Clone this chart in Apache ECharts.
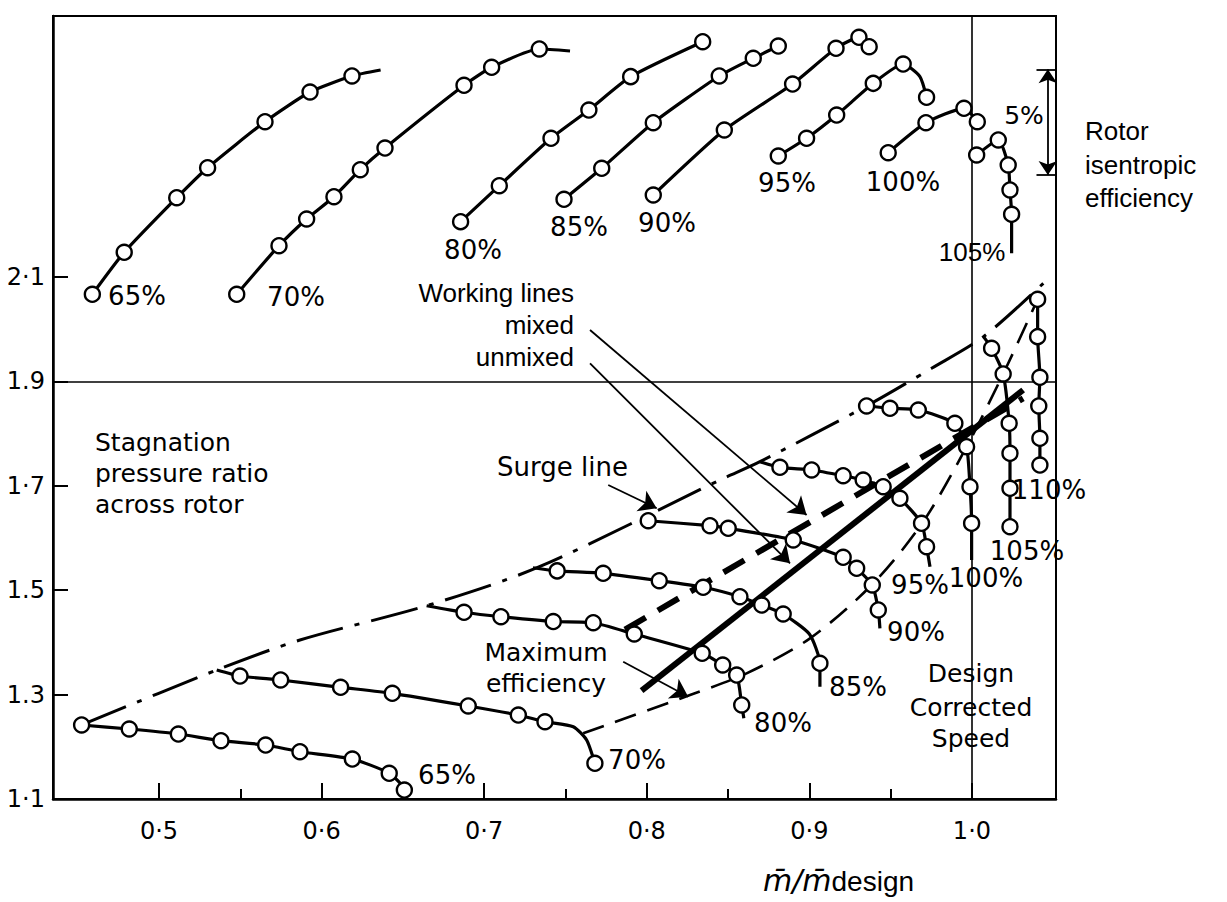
<!DOCTYPE html>
<html><head><meta charset="utf-8">
<script src="https://cdn.jsdelivr.net/npm/echarts@6/dist/echarts.min.js"></script>
<style>html,body{margin:0;padding:0;background:#fff}#c{width:1227px;height:902px}</style>
</head><body><div id="c"></div>
<script>
// ---- axes ----
const X_MIN = 0.4348, X_MAX = 1.0517;
const Y_MIN = 1.1, Y_MAX = 2.6;
const xMajorTicks = [0.5, 0.6, 0.7, 0.8, 0.9, 1.0];
const xMajorLabels = ['0·5', '0·6', '0·7', '0·8', '0·9', '1·0'];
const xMinorTicks = [0.55, 0.65, 0.75, 0.85, 0.95];
const yTicks = [1.1, 1.3, 1.5, 1.7, 1.9, 2.1];
const yLabels = ['1·1', '1.3', '1.5', '1·7', '1.9', '2·1'];

// ---- rotor isentropic efficiency curves (upper panel) [x, y, marker] ----
const eff65 = [[0.4590,2.0669,1],[0.4786,2.1473,1],[0.5109,2.2519,1],[0.5299,2.3094,1],[0.5652,2.3975,1],[0.5929,2.4544,1],[0.6187,2.4851,1],[0.6363,2.4966,0]];
const eff70 = [[0.5478,2.0669,1],[0.5738,2.1600,1],[0.5908,2.2111,1],[0.6076,2.2538,1],[0.6238,2.3056,1],[0.6390,2.3471,1],[0.6876,2.4672,1],[0.7046,2.5017,1],[0.7339,2.5368,1],[0.7528,2.5330,0]];
const eff80 = [[0.6855,2.2060,1],[0.7093,2.2749,1],[0.7411,2.3657,1],[0.7644,2.4199,1],[0.7901,2.4838,1],[0.8344,2.5508,1]];
const eff85 = [[0.7491,2.2489,1],[0.7723,2.3082,1],[0.8040,2.3956,1],[0.8446,2.4851,1],[0.8655,2.5190,1],[0.8809,2.5425,1]];
const eff90 = [[0.8040,2.2571,1],[0.8477,2.3816,1],[0.8897,2.4697,1],[0.9164,2.5381,1],[0.9305,2.5592,1],[0.9368,2.5412,1]];
const eff95 = [[0.8809,2.3318,1],[0.8983,2.3657,1],[0.9168,2.4103,1],[0.9393,2.4710,1],[0.9577,2.5080,1],[0.9680,2.4838,0],[0.9721,2.4443,1]];
const eff100 = [[0.9485,2.3381,1],[0.9717,2.3956,1],[0.9951,2.4232,1],[1.0033,2.3975,1]];
const eff105 = [[1.0029,2.3337,1],[1.0162,2.3625,1],[1.0223,2.3146,1],[1.0234,2.2667,1],[1.0244,2.2201,1],[1.0244,2.1454,0]];

// ---- stagnation pressure ratio curves (lower panel) [x, y, marker] ----
const pr65 = [[0.4524,1.2418,1],[0.4817,1.2341,1],[0.5119,1.2245,1],[0.5381,1.2117,1],[0.5656,1.2034,1],[0.5867,1.1906,1],[0.6189,1.1766,1],[0.6416,1.1492,1],[0.6509,1.1172,1],[0.6509,1.1000,0]];
const pr70 = [[0.5355,1.3471,0],[0.5498,1.3356,1],[0.5748,1.3280,1],[0.6117,1.3140,1],[0.6435,1.3025,1],[0.6902,1.2782,1],[0.7210,1.2609,1],[0.7374,1.2480,1],[0.7548,1.2385,0],[0.7630,1.2130,0],[0.7681,1.1684,1]];
const pr80 = [[0.6646,1.4703,0],[0.6876,1.4577,1],[0.7103,1.4492,1],[0.7425,1.4400,1],[0.7671,1.4377,1],[0.7923,1.4161,1],[0.8341,1.3791,1],[0.8467,1.3567,1],[0.8553,1.3375,1],[0.8584,1.2801,1],[0.8597,1.2546,0]];
const pr85 = [[0.7300,1.5430,0],[0.7449,1.5370,1],[0.7732,1.5324,1],[0.8077,1.5182,1],[0.8347,1.5056,1],[0.8573,1.4876,1],[0.8707,1.4716,1],[0.8839,1.4544,1],[0.9000,1.4161,0],[0.9065,1.3600,1],[0.9065,1.3152,0]];
const pr90 = [[0.8009,1.6331,1],[0.8389,1.6236,1],[0.8501,1.6186,1],[0.8901,1.5962,1],[0.9208,1.5630,1],[0.9291,1.5420,1],[0.9387,1.5100,1],[0.9424,1.4621,1],[0.9434,1.4270,0]];
const pr95 = [[0.8696,1.7462,0],[0.8819,1.7354,1],[0.9014,1.7303,1],[0.9208,1.7193,1],[0.9331,1.7111,1],[0.9454,1.6983,1],[0.9557,1.6760,1],[0.9690,1.6282,1],[0.9721,1.5833,1],[0.9742,1.5450,0]];
const pr100 = [[0.9352,1.8529,1],[0.9496,1.8485,1],[0.9670,1.8452,1],[0.9895,1.8197,1],[0.9967,1.7749,1],[0.9988,1.6983,1],[0.9998,1.6282,1],[0.9998,1.5579,0]];
const pr105 = [[1.0071,1.9857,0],[1.0121,1.9634,1],[1.0192,1.9142,1],[1.0229,1.8197,1],[1.0234,1.7623,1],[1.0234,1.6952,1],[1.0234,1.6217,1]];
const pr110 = [[1.0404,2.0573,1],[1.0404,1.9857,1],[1.0418,1.9079,1],[1.0411,1.8529,1],[1.0418,1.7910,1],[1.0418,1.7398,1]];

// ---- characteristic lines ----
const surgeLine = [[0.4524,1.2418],[0.5355,1.3471],[0.5867,1.4046],[0.6646,1.4703],[0.7340,1.5450],[0.8450,1.7111],[0.8696,1.7462],[0.9352,1.8529],[0.9752,1.9251],[1.0071,1.9857],[1.0439,2.0879]];
const maxEffLine = [[0.7609,1.2259],[0.8266,1.2992],[0.8614,1.3408],[0.9004,1.4078],[0.9393,1.5132],[0.9700,1.6312],[0.9967,1.7749],[1.0192,1.9142],[1.0404,2.0573]];
const workingUnmixed = [[0.7968,1.3075],[1.0315,1.8835]];
const workingMixed = [[0.7866,1.4246],[1.0315,1.8676]];

// ---- annotation arrows (data space) ----
const arrowMixed = [[0.7651,1.9985],[0.8983,1.6441]];
const arrowUnmixed = [[0.7651,1.9347],[0.8881,1.5515]];
const arrowSurge = [[0.7763,1.7015],[0.8061,1.6569]];
const arrowMaxEff = [[0.7855,1.3630],[0.8255,1.2960]];
const scaleBar5 = [[1.0467,2.4979],[1.0467,2.2954]];
const scaleCapTop = [[1.0397,2.4979],[1.0520,2.4979]];
const scaleCapBottom = [[1.0397,2.2954],[1.0520,2.2954]];

// ---- reference lines ----
const designSpeedX = 1.0;
const dividerY = 1.9;

const BLACK = '#000';
function curve(pts) {
  return {
    type: 'line', silent: true, z: 5,
    data: pts.map(p => ({ value: [p[0], p[1]], symbol: p[2] ? 'circle' : 'none' })),
    symbol: 'circle', symbolSize: 15, showSymbol: true, smooth: 0.2,
    lineStyle: { color: BLACK, width: 3.2 },
    itemStyle: { color: '#fff', borderColor: BLACK, borderWidth: 2.4 }
  };
}
function plainLine(pts, width, type, smooth, z) {
  return {
    type: 'line', silent: true, z: z, symbol: 'none', smooth: smooth,
    data: pts, lineStyle: { color: BLACK, width: width, type: type }
  };
}
function arrows(list, sym, size) {
  return {
    type: 'lines', coordinateSystem: 'cartesian2d', silent: true, z: 6,
    symbol: sym, symbolSize: size,
    lineStyle: { color: BLACK, width: 1.8, opacity: 1 },
    data: list.map(c => ({ coords: c }))
  };
}

const FONT_A = '"DejaVu Sans"';
const FONT_B = '"Liberation Sans"';
function txt(x, y, text, font, size, align) {
  return {
    type: 'text', silent: true, z: 20,
    style: { x: x, y: y, text: text, fill: BLACK, font: size + 'px ' + font,
      textAlign: align || 'center', textVerticalAlign: 'middle' }
  };
}

const series = [
  curve(eff65), curve(eff70), curve(eff80), curve(eff85), curve(eff90),
  curve(eff95), curve(eff100), curve(eff105),
  curve(pr65), curve(pr70), curve(pr80), curve(pr85), curve(pr90),
  curve(pr95), curve(pr100), curve(pr105), curve(pr110),
  Object.assign(plainLine(surgeLine, 3, [48, 12, 5, 12], 0.3, 3), {
    markLine: {
      silent: true, symbol: ['none', 'none'], label: { show: false },
      lineStyle: { color: BLACK, width: 1.6, type: 'solid' },
      data: [{ yAxis: dividerY }, { xAxis: designSpeedX }]
    }
  }),
  plainLine(maxEffLine, 2.6, [22, 12], 0.3, 3),
  plainLine(workingUnmixed, 6, 'solid', false, 4),
  plainLine(workingMixed, 6, [24, 14], false, 4),
  arrows([arrowMixed, arrowUnmixed, arrowSurge, arrowMaxEff], ['none', 'arrow'], 17),
  arrows([scaleBar5], ['arrow', 'arrow'], 14),
  arrows([scaleCapTop, scaleCapBottom], ['none', 'none'], 0)
];

const graphic = [
  // upper speed labels
  txt(137, 296, '65%', FONT_A, 26), txt(296, 297, '70%', FONT_A, 26),
  txt(473, 250, '80%', FONT_A, 26), txt(579, 227, '85%', FONT_A, 26),
  txt(667, 223, '90%', FONT_A, 26), txt(787, 183, '95%', FONT_A, 26),
  txt(903, 182, '100%', FONT_A, 26), txt(972, 252, '105%', FONT_B, 26),
  txt(1024, 115, '5%', FONT_A, 25),
  // lower speed labels
  txt(447, 775, '65%', FONT_A, 26), txt(637, 760, '70%', FONT_A, 26),
  txt(783, 723, '80%', FONT_A, 26), txt(858, 687, '85%', FONT_A, 26),
  txt(916, 632, '90%', FONT_A, 26), txt(920, 585, '95%', FONT_A, 26),
  txt(986, 578, '100%', FONT_A, 26), txt(1027, 551, '105%', FONT_A, 26),
  txt(1049, 490, '110%', FONT_A, 26),
  // descriptive text
  txt(95, 442, 'Stagnation', FONT_A, 25, 'left'),
  txt(95, 473, 'pressure ratio', FONT_A, 25, 'left'),
  txt(95, 504, 'across rotor', FONT_A, 25, 'left'),
  txt(497, 467, 'Surge line', FONT_A, 26, 'left'),
  txt(546, 652, 'Maximum', FONT_A, 25), txt(546, 683, 'efficiency', FONT_A, 25),
  txt(574, 293, 'Working lines', FONT_B, 26, 'right'),
  txt(574, 325, 'mixed', FONT_B, 26, 'right'),
  txt(574, 357, 'unmixed', FONT_B, 26, 'right'),
  txt(971, 673, 'Design', FONT_A, 25), txt(971, 707, 'Corrected', FONT_A, 25),
  txt(971, 738, 'Speed', FONT_A, 25),
  txt(1085, 131, 'Rotor', FONT_B, 26, 'left'),
  txt(1085, 165, 'isentropic', FONT_B, 26, 'left'),
  txt(1085, 198, 'efficiency', FONT_B, 26, 'left'),
  {
    type: 'text', silent: true, z: 20,
    style: {
      x: 763, y: 895, text: '{a|m\u0304/m\u0304}{b|design}', fill: BLACK,
      textAlign: 'left', textVerticalAlign: 'bottom',
      rich: {
        a: { fontFamily: 'DejaVu Sans', fontStyle: 'italic', fontSize: 30, verticalAlign: 'bottom', fill: BLACK },
        b: { fontFamily: 'Liberation Sans', fontSize: 28, verticalAlign: 'bottom', fill: BLACK }
      }
    }
  }
];

function near(list, v) { return list.findIndex(t => Math.abs(t - v) < 1e-6); }

const option = {
  animation: false,
  backgroundColor: '#fff',
  grid: { left: 53, right: 171, top: 16, bottom: 103, show: true, borderColor: BLACK, borderWidth: 2, backgroundColor: 'transparent' },
  xAxis: [
    {
      type: 'value', min: X_MIN, max: X_MAX, position: 'bottom',
      axisLine: { show: true, onZero: false, lineStyle: { color: BLACK, width: 2.5 } },
      axisTick: { show: true, inside: true, length: 16, customValues: xMajorTicks, lineStyle: { color: BLACK, width: 2 } },
      axisLabel: { customValues: xMajorTicks, formatter: v => { const i = near(xMajorTicks, v); return i >= 0 ? xMajorLabels[i] : ''; },
        color: BLACK, fontFamily: 'DejaVu Sans', fontSize: 24, margin: 20 },
      splitLine: { show: false }
    },
    {
      type: 'value', min: X_MIN, max: X_MAX, position: 'bottom',
      axisLine: { show: false },
      axisTick: { show: true, inside: true, length: 10, customValues: xMinorTicks, lineStyle: { color: BLACK, width: 2 } },
      axisLabel: { show: false }, splitLine: { show: false }
    }
  ],
  yAxis: {
    type: 'value', min: Y_MIN, max: Y_MAX,
    axisLine: { show: true, onZero: false, lineStyle: { color: BLACK, width: 2.5 } },
    axisTick: { show: true, inside: true, length: 15, customValues: yTicks, lineStyle: { color: BLACK, width: 2 } },
    axisLabel: { customValues: yTicks, formatter: v => { const i = near(yTicks, v); return i >= 0 ? yLabels[i] : ''; },
      color: BLACK, fontFamily: 'DejaVu Sans', fontSize: 24, margin: 8 },
    splitLine: { show: false }
  },
  series: series,
  graphic: graphic
};

const chart = echarts.init(document.getElementById('c'), null, { renderer: 'svg' });
chart.setOption(option);
</script>
</body></html>
